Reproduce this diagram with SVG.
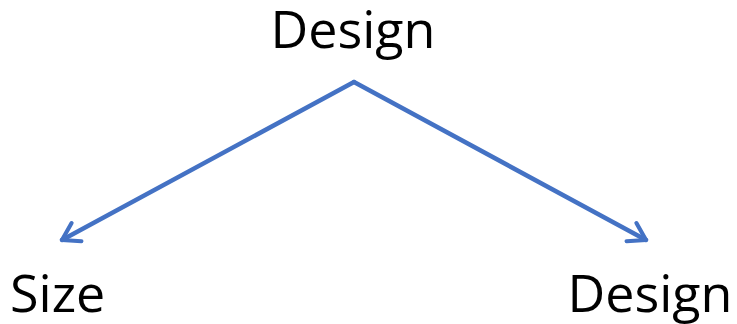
<svg xmlns="http://www.w3.org/2000/svg" width="737" height="324" viewBox="0 0 737 324">
<style>
text{font-family:"Open Sans","Noto Sans","Liberation Sans",sans-serif;font-size:52px;fill:#000}
.c{fill:none;stroke:#4472C4;stroke-width:4.5;stroke-linecap:round;stroke-linejoin:round}
</style>
<defs>
<marker id="a" viewBox="0 0 12 12" refX="10" refY="6" markerWidth="5.5" markerHeight="5.5" markerUnits="strokeWidth" orient="auto">
<path d="M2,1 L10,6 L2,11" fill="none" stroke="#4472C4" stroke-width="2" stroke-linecap="round" stroke-linejoin="round"/>
</marker>
</defs>
<rect width="737" height="324" fill="#fff"/>
<g id="connectors">
<path class="c" d="M354,82 L62,240" marker-end="url(#a)"/>
<path class="c" d="M354,82 L646,240" marker-end="url(#a)"/>
</g>
<g id="design-top"><text x="353" y="48" text-anchor="middle">Design</text></g>
<g id="size"><text x="10" y="312">Size</text></g>
<g id="design-bottom"><text x="650" y="312" text-anchor="middle">Design</text></g>
</svg>
